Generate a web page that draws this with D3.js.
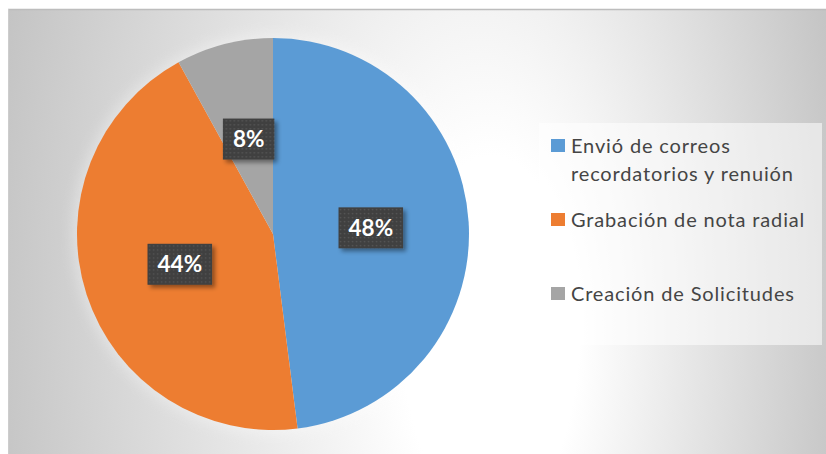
<!DOCTYPE html>
<html>
<head>
<meta charset="utf-8">
<script src="https://cdn.jsdelivr.net/npm/d3@7"></script>
<style>
  body { margin: 0; background: #fff; }
  svg { display: block; }
</style>
</head>
<body>
<svg width="826" height="454"></svg>
<script>
// Chart data
const categories = ["Envió de correos recordatorios y renuión", "Grabación de nota radial", "Creación de Solicitudes"];
const values = [48, 44, 8];
const colors = ["#5B9BD5", "#ED7D31", "#A5A5A5"];

const width = 826, height = 454;
const cx = 273, cy = 234, radius = 196;

const svg = d3.select("svg");
const defs = svg.append("defs");

// background radial gradient (white spot right of the pie, grey to the edges)
const bg = defs.append("radialGradient")
    .attr("id", "bgGrad")
    .attr("gradientUnits", "userSpaceOnUse")
    .attr("cx", 0).attr("cy", 0).attr("r", 1)
    .attr("fx", 0.21).attr("fy", 0.05)
    .attr("gradientTransform", "translate(417,300) scale(440,900)");
bg.append("stop").attr("offset", 0).attr("stop-color", "#ffffff");
bg.append("stop").attr("offset", 0.2).attr("stop-color", "#ffffff");
bg.append("stop").attr("offset", 1).attr("stop-color", "#c3c3c3");

// soft halo behind the pie
defs.append("filter").attr("id", "halo")
    .attr("x", "-20%").attr("y", "-20%").attr("width", "140%").attr("height", "140%")
  .append("feGaussianBlur").attr("stdDeviation", 7);

// label shadow
const sh = defs.append("filter").attr("id", "shadow")
    .attr("x", "-30%").attr("y", "-30%").attr("width", "170%").attr("height", "170%");
sh.append("feDropShadow").attr("dx", 3).attr("dy", 3).attr("stdDeviation", 2)
    .attr("flood-color", "#000").attr("flood-opacity", 0.4);

// dotted pattern for label boxes
const pat = defs.append("pattern").attr("id", "dots")
    .attr("patternUnits", "userSpaceOnUse").attr("width", 4).attr("height", 4);
pat.append("rect").attr("width", 4).attr("height", 4).attr("fill", "#404040");
pat.append("rect").attr("x", 1).attr("y", 1).attr("width", 1.4).attr("height", 1.4).attr("fill", "#575757");

// chart area
svg.append("rect")
    .attr("x", 8).attr("y", 9)
    .attr("width", width - 8).attr("height", height - 9)
    .attr("fill", "url(#bgGrad)");
svg.append("line")
    .attr("x1", 8).attr("x2", width).attr("y1", 9.5).attr("y2", 9.5)
    .attr("stroke", "#bdbdbd").attr("stroke-width", 1.5);
svg.append("line")
    .attr("x1", 8.5).attr("x2", 8.5).attr("y1", 9).attr("y2", height)
    .attr("stroke", "#cdcdcd").attr("stroke-width", 1);

const total = d3.sum(values);
const pie = d3.pie().sort(null).value(d => d);
const arcs = pie(values);
const arc = d3.arc().innerRadius(0).outerRadius(radius);

const g = svg.append("g").attr("transform", `translate(${cx},${cy})`);

g.append("circle")
    .attr("r", radius + 4)
    .attr("fill", "#fff")
    .attr("opacity", 0.35)
    .attr("filter", "url(#halo)");

g.selectAll("path.slice")
    .data(arcs)
    .join("path")
    .attr("class", "slice")
    .attr("d", arc)
    .attr("fill", (d, i) => colors[i]);

// data labels
const fmt = d3.format(".0%");
const labels = g.selectAll("g.lbl")
    .data(arcs)
    .join("g")
    .attr("class", "lbl")
    .attr("transform", d => `translate(${arc.centroid(d)})`);

labels.each(function(d) {
    const sel = d3.select(this);
    const t = sel.append("text")
        .attr("text-anchor", "middle")
        .attr("dy", "0.36em")
        .attr("font-family", "Lato, 'Open Sans', sans-serif")
        .attr("font-weight", "bold")
        .attr("font-size", 22.5)
        .attr("fill", "#fff")
        .text(fmt(d.data / total));
    const w = t.node().getComputedTextLength() + 20;
    const h = 41;
    sel.insert("rect", "text")
        .attr("x", -w / 2).attr("y", -h / 2)
        .attr("width", w).attr("height", h)
        .attr("fill", "url(#dots)")
        .attr("filter", "url(#shadow)");
});

// legend
const legend = svg.append("g");
legend.append("rect")
    .attr("x", 539).attr("y", 123)
    .attr("width", 283).attr("height", 222)
    .attr("fill", "#fff").attr("opacity", 0.55);

const itemY = d3.scaleLinear().domain([0, 1]).range([153, 227]);
const maxW = 245;

const items = legend.selectAll("g.item")
    .data(categories)
    .join("g")
    .attr("class", "item")
    .attr("transform", (d, i) => `translate(0,${itemY(i)})`);

items.append("rect")
    .attr("x", 551).attr("y", -14)
    .attr("width", 14).attr("height", 13)
    .attr("fill", (d, i) => colors[i]);

items.each(function(d) {
    const t = d3.select(this).append("text")
        .attr("x", 571)
        .attr("font-family", "Lato, 'Open Sans', sans-serif")
        .attr("font-size", 20)
        .attr("letter-spacing", 0.85)
        .attr("fill", "#454545");
    const words = d.split(" ");
    let line = [], lineNo = 0;
    let ts = t.append("tspan").attr("x", 571).attr("y", 0);
    words.forEach(w => {
        line.push(w);
        ts.text(line.join(" "));
        if (ts.node().getComputedTextLength() > maxW && line.length > 1) {
            line.pop();
            ts.text(line.join(" "));
            line = [w];
            lineNo++;
            ts = t.append("tspan").attr("x", 571).attr("y", lineNo * 28).text(w);
        }
    });
});
</script>
</body>
</html>
